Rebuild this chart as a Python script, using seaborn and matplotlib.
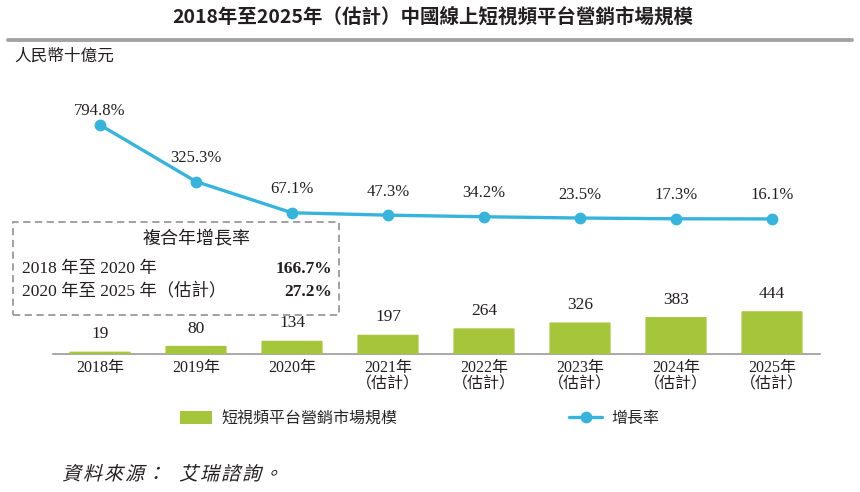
import matplotlib
matplotlib.use("Agg")
import matplotlib.pyplot as plt
from matplotlib.patches import Patch, Rectangle, PathPatch
from matplotlib.lines import Line2D
from matplotlib.textpath import TextPath
from matplotlib.font_manager import FontProperties
from matplotlib.transforms import Affine2D
import numpy as np
import pandas as pd
import seaborn as sns

years = ["2018年", "2019年", "2020年", "2021年\n（估計）", "2022年\n（估計）",
         "2023年\n（估計）", "2024年\n（估計）", "2025年\n（估計）"]
market_size = [19, 80, 134, 197, 264, 326, 383, 444]
growth_rate = [794.8, 325.3, 67.1, 47.3, 34.2, 23.5, 17.3, 16.1]
growth_labels = ["794.8%", "325.3%", "67.1%", "47.3%", "34.2%", "23.5%", "17.3%", "16.1%"]
cagr_periods = ["2018 年至 2020 年", "2020 年至 2025 年（估計）"]
cagr_values = ["166.7%", "27.2%"]
source_words = ["資料來源：", "艾瑞諮詢。"]

GREEN = "#a5c53b"
BLUE = "#37b4dc"
GRAY = "#9a9a9a"
TEXT = "#231f20"

sns.set_theme(style="white")
SERIF = ["Liberation Serif", "Noto Sans CJK TC"]
plt.rcParams["font.family"] = SERIF

df = pd.DataFrame({"year": years, "size": market_size, "rate": growth_rate,
                   "pos": np.arange(len(years))})

W, H = 860, 492
fig = plt.figure(figsize=(W / 100, H / 100), dpi=100)

# axes box in pixels: left 53, right 820, baseline 354, top 70
ax = fig.add_axes([53 / W, (H - 354) / H, (820 - 53) / W, (354 - 70) / H])
sns.barplot(data=df, x="year", y="size", color=GREEN, width=0.625,
            saturation=1, ax=ax)
for p in ax.patches:
    p.set_zorder(3)
    p.set_edgecolor(GREEN)
    p.set_linewidth(0.8)
    p.set_snap(False)
ax.set_xlim(-0.49, 7.5)
ax.set_ylim(0, 2990)
ax.set_xlabel("")
ax.set_ylabel("")
ax.set_yticks([])
for s in ["top", "left", "right"]:
    ax.spines[s].set_visible(False)
ax.spines["bottom"].set_color(GRAY)
ax.spines["bottom"].set_linewidth(1.2)
ax.spines["bottom"].set_zorder(1)
ax.tick_params(axis="x", length=0, pad=4)
ax.set_xticks(range(len(years)))
ax.set_xticklabels(years, fontsize=11.5, color=TEXT, linespacing=1.1, va="top")

for i, v in enumerate(market_size):
    ax.annotate(str(v), (i, v), xytext=(0, 10), textcoords="offset points",
                ha="center", va="baseline", fontsize=12.5, color=TEXT)

ax2 = ax.twinx()
sns.lineplot(data=df, x="pos", y="rate", color=BLUE, linewidth=2.4,
             marker="o", markersize=8.5, markeredgewidth=0, ax=ax2, zorder=3)
ax2.set_ylim(-1103, 1250)
ax2.set_xlim(-0.49, 7.5)
ax2.set_yticks([])
ax2.set_xlabel("")
ax2.set_ylabel("")
for s in ["top", "left", "right", "bottom"]:
    ax2.spines[s].set_visible(False)

for i, (v, lab) in enumerate(zip(growth_rate, growth_labels)):
    off = 7 if i == 0 else 14
    ax2.annotate(lab, (i, v), xytext=(0, off), textcoords="offset points",
                 ha="center", va="baseline", fontsize=12, color=TEXT)

# title and rule
fig.text(433 / W, 1 - 18 / H, "2018年至2025年（估計）中國線上短視頻平台營銷市場規模",
         ha="center", va="center", fontsize=14, color=TEXT, fontweight="bold",
         family=["Liberation Sans Narrow", "Noto Sans CJK TC"])
fig.add_artist(Line2D([8 / W, 852 / W], [1 - 40 / H, 1 - 40 / H],
                      color="#a3a3a3", linewidth=2.8))
fig.text(14 / W, 1 - 57 / H, "人民幣十億元", ha="left", va="center",
         fontsize=12, color=TEXT)

# CAGR box
fig.add_artist(Rectangle((13 / W, 1 - 315 / H), (339 - 13) / W, (315 - 222) / H,
                         fill=False, edgecolor=GRAY, linestyle=(0, (4, 2.5)),
                         linewidth=1.3, transform=fig.transFigure))
fig.text(197 / W, 1 - 240 / H, "複合年增長率", ha="center", va="center",
         fontsize=13, color=TEXT)
for row, (period, val) in enumerate(zip(cagr_periods, cagr_values)):
    y = 1 - (269 + row * 23) / H
    fig.text(22 / W, y, period, ha="left", va="center", fontsize=12.5, color=TEXT)
    fig.text(332 / W, y, val, ha="right", va="center", fontsize=12.5,
             color=TEXT, fontweight="bold")

# legend
fig.legend(handles=[Patch(facecolor=GREEN, edgecolor="none")],
           labels=["短視頻平台營銷市場規模"], loc="center left",
           bbox_to_anchor=(166 / W, 1 - 419 / H), frameon=False, fontsize=11.5,
           handlelength=2.0, handleheight=0.8, handletextpad=0.55)
fig.legend(handles=[Line2D([], [], color=BLUE, linewidth=2.4, marker="o",
                           markersize=8.5, markeredgewidth=0)],
           labels=["增長率"], loc="center left",
           bbox_to_anchor=(555 / W, 1 - 419 / H), frameon=False, fontsize=11.5,
           handlelength=2.05, handletextpad=0.55)

# italic, letter-spaced source note (skewed glyph paths, pixel coordinates)
src_font = FontProperties(family="Noto Sans CJK TC")
for w, word in enumerate(source_words):
    for c, ch in enumerate(word):
        glyph = TextPath((0, 0), ch, size=19, prop=src_font)
        tf = Affine2D().skew_deg(14, 0).translate(62 + w * 117 + c * 21, H - 480)
        fig.add_artist(PathPatch(glyph, transform=tf, facecolor=TEXT,
                                 edgecolor="none"))

fig.savefig("out.png", dpi=100)
